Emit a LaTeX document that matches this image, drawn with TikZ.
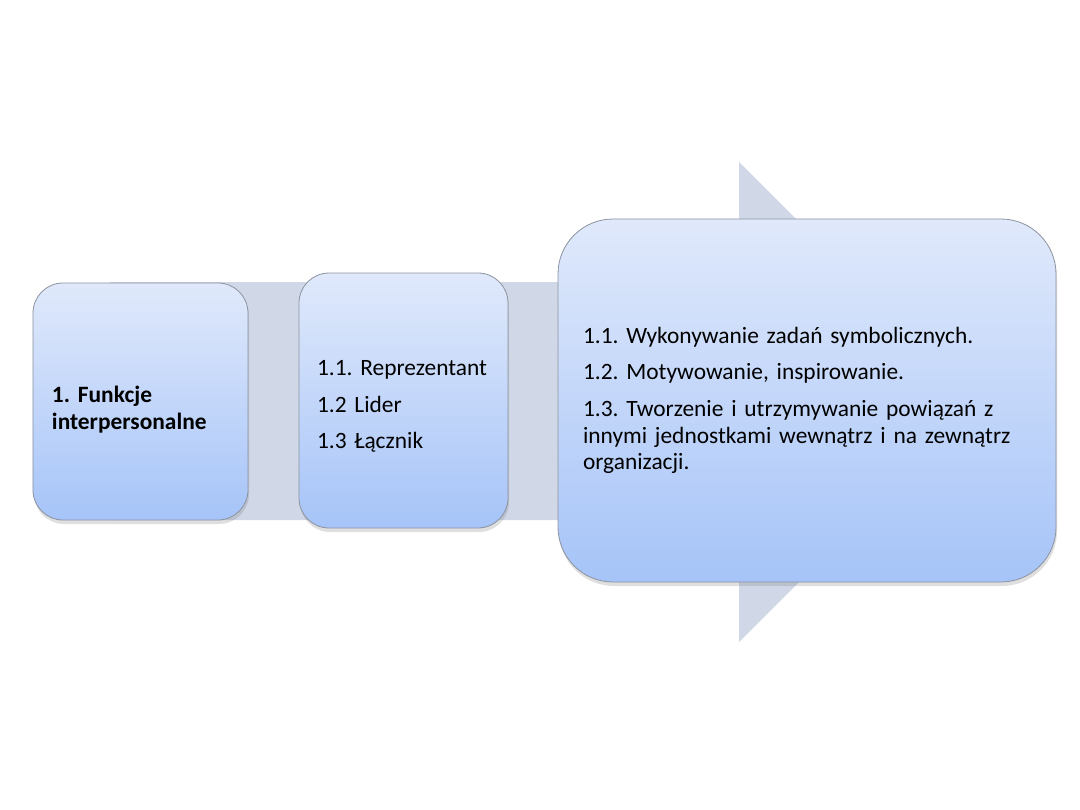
\documentclass[tikz,border=0pt]{standalone}
\usepackage{fontspec}
\setmainfont{Carlito}
\usetikzlibrary{positioning,shadows}
\definecolor{funTop}{HTML}{E0E9FB}
\definecolor{funBottom}{HTML}{A6C4F8}
\definecolor{funArrow}{HTML}{D0D7E7}
\definecolor{funLine}{HTML}{8C939F}
\tikzset{
  card/.style={
    rectangle,
    rounded corners=30bp,
    draw=funLine,
    line width=0.8bp,
    top color=funTop,
    bottom color=funBottom,
    drop shadow={shadow xshift=1bp, shadow yshift=-4bp, opacity=0.25},
    align=left,
    font=\fontsize{23.5}{27}\selectfont\frenchspacing,
    inner ysep=0pt
  },
  bigcard/.style={card, rounded corners=55bp},
  flow/.style={fill=funArrow, draw=none}
}

\begin{document}
\begin{tikzpicture}[x=1bp, y=-1bp]
  \useasboundingbox (0,0) rectangle (1080,810);
  % background arrow
  \fill[flow] (110,282) -- (739,282) -- (739,162) -- (979,402) -- (739,642) -- (739,520) -- (110,520) -- cycle;
  % boxes
  \node[card, minimum width=215bp, minimum height=237bp, text width=177bp, inner xsep=19bp] (func) at (140.5,401.5) {\rule{0pt}{32bp}\textbf{1. Funkcje}\\\textbf{interpersonalne}};
  \node[card, minimum width=209bp, minimum height=255bp, text width=173bp, inner xsep=18bp] (roles) at (403.5,400.5) {\rule{0pt}{27bp}1.1. Reprezentant\\[9.5bp]1.2 Lider\\[9.5bp]1.3 Łącznik};
  \node[bigcard, minimum width=498bp, minimum height=363bp, text width=448bp, inner xsep=25bp] (tasks) at (807,400.5) {1.1. Wykonywanie zadań symbolicznych.\\[9.5bp]1.2. Motywowanie, inspirowanie.\\[9.5bp]1.3. Tworzenie i utrzymywanie powiązań z\\innymi jednostkami wewnątrz i na zewnątrz\\organizacji.};
\end{tikzpicture}
\end{document}
